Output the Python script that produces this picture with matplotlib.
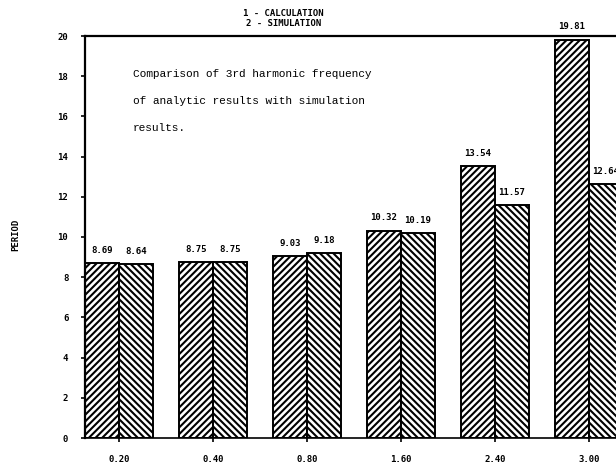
import matplotlib
matplotlib.use("Agg")
import matplotlib.pyplot as plt
import numpy as np

# --- Data ---------------------------------------------------------------
categories = ["0.20", "0.40", "0.80", "1.60", "2.40", "3.00"]
calculation = [8.69, 8.75, 9.03, 10.32, 13.54, 19.81]
simulation = [8.64, 8.75, 9.18, 10.19, 11.57, 12.64]
y_ticks = [0, 2, 4, 6, 8, 10, 12, 14, 16, 18, 20]

BAR_W = 0.362
MONO_BOLD = dict(family="DejaVu Sans Mono", fontweight="bold")

plt.rcParams["hatch.linewidth"] = 1.5
plt.rcParams["hatch.color"] = "black"

fig = plt.figure(figsize=(6.16, 4.63), dpi=100)
ax = fig.add_axes([85 / 616, 25 / 463, 1 - 85 / 616, 402 / 463])

x = np.arange(len(categories))
b1 = ax.bar(x - BAR_W / 2, calculation, BAR_W, facecolor="white",
            edgecolor="black", linewidth=1.4, hatch="/////")
b2 = ax.bar(x + BAR_W / 2, simulation, BAR_W, facecolor="white",
            edgecolor="black", linewidth=1.4, hatch="\\\\\\\\\\")

# value labels above each bar (the last one runs off the right edge, as in the original)
for bars, vals in ((b1, calculation), (b2, simulation)):
    for rect, v in zip(bars, vals):
        ax.annotate(f"{v:.2f}", (rect.get_x() + rect.get_width() / 2, rect.get_height()),
                    xytext=(0, 6), textcoords="offset points", ha="center", va="bottom",
                    fontsize=6.5, **MONO_BOLD)

ax.set_xlim(-BAR_W, (616 - 119) / 94)
ax.set_ylim(0, 20)
ax.set_xticks(x)
ax.set_xticklabels(categories, fontsize=6.5, **MONO_BOLD)
ax.set_yticks(y_ticks)
ax.set_yticklabels([str(t) for t in y_ticks], fontsize=6.5, **MONO_BOLD)
ax.tick_params(axis="both", direction="out", length=3, width=1.2)
ax.tick_params(axis="y", pad=9)
ax.tick_params(axis="x", pad=9)

ax.spines["right"].set_visible(False)
ax.spines["top"].set_linewidth(1.6)
ax.spines["left"].set_linewidth(1.6)
ax.spines["bottom"].set_linewidth(1.2)

fig.text(0.026, 1 - 235 / 463, "PERIOD", rotation=90, ha="center", va="center",
         fontsize=6.5, **MONO_BOLD)
fig.text(0.46, 1 - 13 / 463, "1 - CALCULATION", ha="center", va="center",
         fontsize=6.5, **MONO_BOLD)
fig.text(0.46, 1 - 23 / 463, "2 - SIMULATION", ha="center", va="center",
         fontsize=6.5, **MONO_BOLD)

fig.text(133 / 616, 1 - 69 / 463,
         "Comparison of 3rd harmonic frequency\n"
         "of analytic results with simulation\n"
         "results.",
         ha="left", va="top", fontsize=8, family="Liberation Mono",
         linespacing=3.1)

fig.savefig("out.png", dpi=100)
